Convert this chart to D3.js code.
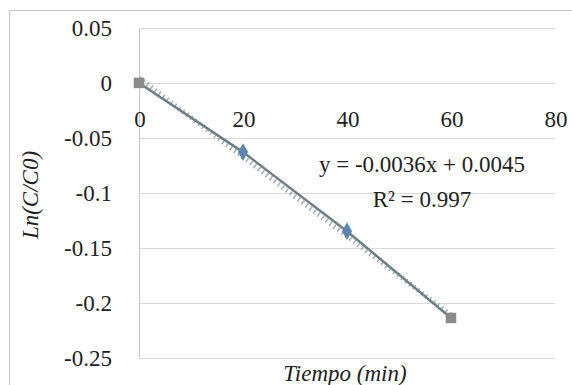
<!DOCTYPE html>
<html><head><meta charset="utf-8">
<script src="https://cdn.jsdelivr.net/npm/d3@7/dist/d3.min.js"></script>
<style>body{margin:0;background:#fff}svg{display:block}</style>
</head><body>
<script>
const tiempo = [0, 20, 40, 60];
const lnC = [0, -0.063, -0.135, -0.214];
const markerShape = ["square", "diamond", "diamond", "square"];
const xTicks = [0, 20, 40, 60, 80];
const yTicks = [0.05, 0, -0.05, -0.1, -0.15, -0.2, -0.25];
const yTickLabels = ["0.05", "0", "-0.05", "-0.1", "-0.15", "-0.2", "-0.25"];
const slope = -0.0036, intercept = 0.0045;
const eqText = "y = -0.0036x + 0.0045";
const r2Text = "R² = 0.997";

const W = 572, H = 385;
const svg = d3.select("body").append("svg").attr("width", W).attr("height", H);
svg.append("rect").attr("x", 9.5).attr("y", 10.5).attr("width", 570).attr("height", 380)
  .attr("fill", "#fff").attr("stroke", "#c8c8c8");

const x = d3.scaleLinear().domain([0, 80]).range([139, 555]);
const y = d3.scaleLinear().domain([-0.25, 0.05]).range([357.5, 28]);
const txt = sel => sel.attr("font-family", "Liberation Serif").attr("font-size", 23)
  .style("font-family", '"Liberation Serif"').style("font-size", "23px").style("fill", "#222");

// gridlines
svg.append("g").selectAll("line").data(yTicks).join("line")
  .attr("x1", x(0)).attr("x2", x(80))
  .attr("y1", d => Math.round(y(d)) + 0.5).attr("y2", d => Math.round(y(d)) + 0.5)
  .attr("stroke", "#d9d9d9").attr("stroke-width", 1);

// y axis line
svg.append("line").attr("x1", x(0) + 0.5).attr("x2", x(0) + 0.5)
  .attr("y1", y(0.05)).attr("y2", y(-0.25)).attr("stroke", "#c8c8c8");

// y tick labels
svg.append("g").selectAll("text").data(yTicks).join("text")
  .attr("x", 112).attr("y", d => y(d) + 8)
  .attr("text-anchor", "end").call(txt).text((d, i) => yTickLabels[i]);

// x tick labels (at zero line)
svg.append("g").selectAll("text").data(xTicks).join("text")
  .attr("x", d => x(d) + 1).attr("y", y(0) + 44)
  .attr("text-anchor", "middle").call(txt).text(d => String(d));

// trendline dotted
const tl = d3.line().x(d => x(d)).y(d => y(slope * d + intercept));
svg.append("path").attr("d", tl([0, 60])).attr("fill", "none")
  .attr("stroke", "#7a8a99").attr("stroke-width", 5).attr("stroke-dasharray", "1.5,3.5").attr("opacity", 0.7);

// data line
const pts = tiempo.map((t, i) => [t, lnC[i]]);
svg.append("path").attr("d", d3.line().x(d => x(d[0])).y(d => y(d[1]))(pts))
  .attr("fill", "none").attr("stroke", "#6e7f86").attr("stroke-width", 2.5);

// markers
svg.append("g").selectAll("path").data(pts.map((p, i) => ({ p, s: markerShape[i] }))).join("path")
  .attr("transform", d => `translate(${x(d.p[0])},${y(d.p[1])})`)
  .attr("d", d => d.s === "square" ? d3.symbol(d3.symbolSquare, 110)() : d3.symbol(d3.symbolDiamond, 90)())
  .attr("fill", d => d.s === "square" ? "#8a8a8a" : "#5f86b0");

// equation
svg.append("text").attr("x", 422).attr("y", 172).attr("text-anchor", "middle").call(txt).text(eqText);
svg.append("text").attr("x", 422).attr("y", 207).attr("text-anchor", "middle").call(txt).text(r2Text);

// axis titles
svg.append("text").attr("transform", "translate(38,195) rotate(-90)").attr("text-anchor", "middle")
  .call(txt).style("font-style", "italic").text("Ln(C/C0)");
svg.append("text").attr("x", 345).attr("y", 381).attr("text-anchor", "middle")
  .call(txt).style("font-style", "italic").text("Tiempo (min)");
</script>
</body></html>
